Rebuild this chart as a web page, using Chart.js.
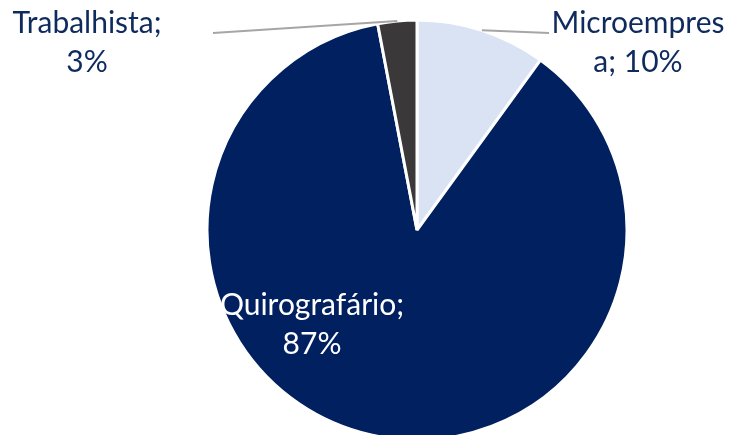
<!DOCTYPE html>
<html>
<head>
<meta charset="utf-8">
<script src="https://cdn.jsdelivr.net/npm/chart.js@4/dist/chart.umd.min.js"></script>
<style>
  html, body { margin: 0; padding: 0; background: #ffffff; }
  #wrap { width: 731px; height: 435px; }
</style>
</head>
<body>
<div id="wrap"><canvas id="chart" width="731" height="435"></canvas></div>
<script>
// Data
const categories = ['Microempresa', 'Quirografário', 'Trabalhista'];
const shares = [10, 87, 3];
const labelLines = [['Microempres', 'a; 10%'], ['Quirografário;', '87%'], ['Trabalhista;', '3%']];

const sliceColors = ['#DAE3F3', '#002060', '#3A3838'];
const textColors = ['#0F2B5E', '#FFFFFF', '#0F2B5E'];

// where each label sits (text centre x, first baseline y) and where its leader ends
const labelPlacement = [
  { x: 638, y: 33, leaderEnd: [549, 33] },
  { x: 312, y: 315, leaderEnd: null },
  { x: 87, y: 33, leaderEnd: [213, 33] }
];

const pieLabels = {
  id: 'pieLabels',
  afterDatasetsDraw(chart) {
    const ctx = chart.ctx;
    const arcs = chart.getDatasetMeta(0).data;
    ctx.save();
    arcs.forEach((arc, i) => {
      const p = labelPlacement[i];
      if (p.leaderEnd) {
        const mid = (arc.startAngle + arc.endAngle) / 2;
        const r = arc.outerRadius;
        ctx.beginPath();
        ctx.moveTo(arc.x + Math.cos(mid) * r, arc.y + Math.sin(mid) * r);
        ctx.lineTo(p.leaderEnd[0], p.leaderEnd[1]);
        ctx.strokeStyle = '#A6A6A6';
        ctx.lineWidth = 2;
        ctx.stroke();
      }
      ctx.font = '30px Lato';
      ctx.fillStyle = textColors[i];
      ctx.textAlign = 'center';
      ctx.textBaseline = 'alphabetic';
      labelLines[i].forEach((line, k) => {
        ctx.fillText(line, p.x, p.y + k * 39);
      });
    });
    ctx.restore();
  }
};

new Chart(document.getElementById('chart'), {
  type: 'pie',
  data: {
    labels: categories,
    datasets: [{
      data: shares,
      backgroundColor: sliceColors,
      borderColor: '#ffffff',
      borderWidth: 3
    }]
  },
  options: {
    responsive: false,
    animation: false,
    radius: 210,
    layout: { padding: { left: 103, right: 0, top: 25, bottom: 0 } },
    plugins: { legend: { display: false }, tooltip: { enabled: false } }
  },
  plugins: [pieLabels]
});
</script>
</body>
</html>
